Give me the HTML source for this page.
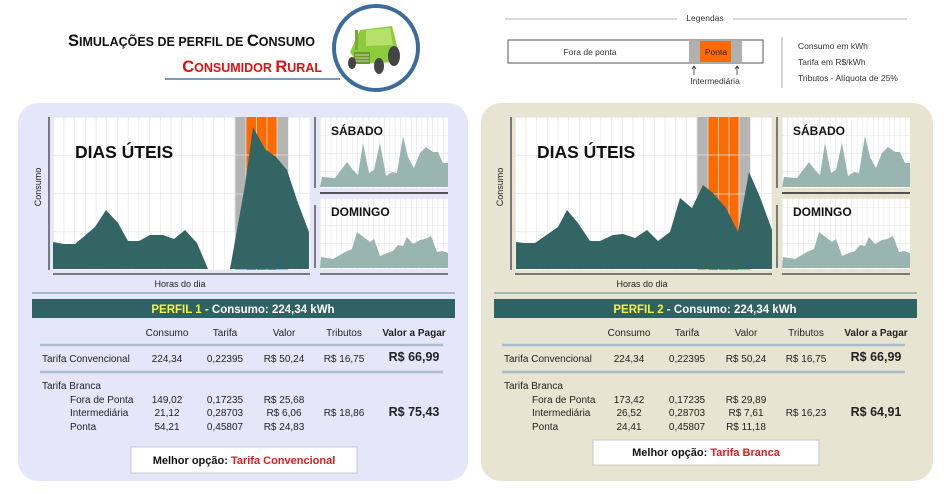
<!DOCTYPE html>
<html><head><meta charset="utf-8"><style>
html,body{margin:0;padding:0;background:#fff;}
svg{display:block;font-family:"Liberation Sans",sans-serif;}
</style></head><body>
<svg width="949" height="494" viewBox="0 0 949 494" xmlns="http://www.w3.org/2000/svg">
<defs>
<pattern id="gm" x="53" y="117" width="10.7" height="38.2" patternUnits="userSpaceOnUse">
<rect width="10.7" height="38.2" fill="#fff"/><path d="M0 0V38.2M0 0H10.7" stroke="#dcdcdc" stroke-width="1"/></pattern>
<pattern id="gs" x="320" y="117" width="5.35" height="18" patternUnits="userSpaceOnUse">
<rect width="5.35" height="18" fill="#fff"/><path d="M0 0V18M0 0H5.35" stroke="#dcdcdc" stroke-width="0.8"/></pattern>
<g id="small">
<rect x="320" y="117" width="128" height="71" fill="url(#gs)"/>
<rect x="320" y="199" width="128" height="70" fill="url(#gs)"/>
<polygon fill="#98b5b0" points="320,187 322,177 335,178 347,162 353,170 358,175 363,143 369,173 374,170 380,143 386,176 392,172 397,173 403,136 408,157 414,168 420,153 426,147 433,152 438,152 443,163 448,163 448,187"/>
<polygon fill="#98b5b0" points="320,268 321,257 333,259 345,252 352,249 357,232 370,242 374,239 380,256 387,253 393,251 398,245 403,246 407,237 413,244 420,240 425,239 431,236 437,252 442,251 448,253 448,268"/>
<line x1="315" y1="117" x2="315" y2="188" stroke="#555" stroke-width="1.5"/>
<line x1="315" y1="205" x2="315" y2="268" stroke="#555" stroke-width="1.5"/>
<line x1="320" y1="193" x2="448" y2="193" stroke="#222" stroke-width="1.5"/>
<line x1="320" y1="274" x2="448" y2="274" stroke="#555" stroke-width="1.5"/>
<text x="331" y="135" font-size="12" font-weight="bold" fill="#111">SÁBADO</text>
<text x="331" y="216" font-size="12" font-weight="bold" fill="#111">DOMINGO</text>
<line x1="49" y1="117" x2="49" y2="270" stroke="#555" stroke-width="1.5"/>
<line x1="53" y1="274" x2="310" y2="274" stroke="#555" stroke-width="1.5"/>
<text x="180" y="287" font-size="9" fill="#222" text-anchor="middle">Horas do dia</text>
<text transform="translate(41,187) rotate(-90)" font-size="9" fill="#222" text-anchor="middle">Consumo</text>
<line x1="32" y1="293" x2="455" y2="293" stroke="#5a8a9a" stroke-width="1"/>
<rect x="32" y="299" width="423" height="19" fill="#2f6262"/>
<g font-size="10" fill="#222" text-anchor="middle">
<text x="167" y="336">Consumo</text><text x="225" y="336">Tarifa</text><text x="284" y="336">Valor</text><text x="344" y="336">Tributos</text>
<text x="414" y="336" font-weight="bold">Valor a Pagar</text>
</g>
<line x1="40" y1="345" x2="443" y2="345" stroke="#a9bccb" stroke-width="2.5"/>
<line x1="40" y1="372" x2="443" y2="372" stroke="#a9bccb" stroke-width="2.5"/>
<text x="42" y="362" font-size="10" fill="#222">Tarifa Convencional</text>
<text x="42" y="389" font-size="10" fill="#222">Tarifa Branca</text>
<g font-size="10" fill="#222"><text x="70" y="403">Fora de Ponta</text><text x="70" y="416">Intermediária</text><text x="70" y="430">Ponta</text></g>
</g>
</defs>
<!-- header -->
<text x="68" y="46" font-size="16.5" font-weight="bold" fill="#111">S<tspan font-size="12.5">IMULAÇÕES DE PERFIL DE </tspan>C<tspan font-size="12.5">ONSUMO</tspan></text>
<text x="322" y="72" font-size="16.5" font-weight="bold" fill="#dd1111" text-anchor="end">C<tspan font-size="12.5">ONSUMIDOR </tspan>R<tspan font-size="12.5">URAL</tspan></text>
<line x1="165" y1="79" x2="340" y2="79" stroke="#4a7aa8" stroke-width="1.5"/>
<circle cx="376" cy="48" r="42" fill="#fff" stroke="#3c6c9c" stroke-width="4"/>
<g>
<path d="M360 30 L392 26 L398 50 L396 62 L358 64 L350 52 Z" fill="#8ccc3c"/>
<path d="M366 30 L390 28 L393 45 L366 46 Z" fill="#b5e06a"/>
<rect x="354" y="52" width="16" height="12" fill="#6a9a2a"/>
<line x1="355" y1="55" x2="369" y2="55" stroke="#ccc"/><line x1="355" y1="58" x2="369" y2="58" stroke="#ccc"/><line x1="355" y1="61" x2="369" y2="61" stroke="#ccc"/>
<ellipse cx="394" cy="56" rx="6" ry="10" fill="#444"/>
<ellipse cx="379" cy="66" rx="5" ry="8" fill="#444"/>
<ellipse cx="352" cy="63" rx="4" ry="6" fill="#444"/>
<rect x="355" y="30" width="3" height="20" fill="#7aa83a"/>
</g>
<!-- legend -->
<text x="705" y="21" font-size="8.5" fill="#333" text-anchor="middle">Legendas</text>
<line x1="505" y1="19" x2="677" y2="19" stroke="#999" stroke-width="0.8"/>
<line x1="733" y1="19" x2="907" y2="19" stroke="#999" stroke-width="0.8"/>
<rect x="508" y="40" width="255" height="23" fill="#fff" stroke="#555" stroke-width="1"/>
<rect x="689" y="41" width="53" height="21" fill="#b0b0b0"/>
<rect x="700" y="41" width="31" height="21" fill="#ff6a00"/>
<text x="590" y="55" font-size="8.5" fill="#333" text-anchor="middle">Fora de ponta</text>
<text x="716" y="55" font-size="8.5" fill="#222" text-anchor="middle">Ponta</text>
<path d="M694 75V67M692 69L694 66L696 69M737 75V67M735 69L737 66L739 69" stroke="#333" fill="none" stroke-width="0.8"/>
<text x="715" y="84" font-size="8.5" fill="#333" text-anchor="middle">Intermediária</text>
<line x1="782" y1="37" x2="782" y2="88" stroke="#aaa" stroke-width="1"/>
<g font-size="8.5" fill="#333"><text x="798" y="49">Consumo em kWh</text><text x="798" y="65">Tarifa  em R$/kWh</text><text x="798" y="81">Tributos - Alíquota de 25%</text></g>
<!-- panels -->
<rect x="18" y="103" width="450" height="378" rx="20" fill="#e6e6fb"/>
<rect x="481" y="103" width="452" height="378" rx="20" fill="#e7e5d1"/>
<!-- panel 1 charts -->
<rect x="53" y="117" width="257" height="153" fill="url(#gm)"/>
<rect x="235" y="117" width="53" height="153" fill="#b4b4b4"/>
<rect x="246" y="117" width="31" height="153" fill="#ff6a00"/>
<path d="M235 117V270M246 117V270M256.5 117V270M267 117V270M277 117V270M235 155H288M235 194H288M235 232H288" stroke="#e0e0e0" stroke-width="0.8"/>
<polygon fill="#326563" points="53,269 53,242 64,244 75,244 95,227 106,210 118,223 128,241 139,241 150,235 163,235 174,239 185,230 197,243 208,269 230,269 245,185 253,127 265,149 276,157 287,170 298,203 309,232 309,269"/>
<text x="75" y="158" font-size="17.5" font-weight="bold" fill="#111">DIAS ÚTEIS</text>
<use href="#small"/>
<text x="243" y="313" font-size="11.5" font-weight="bold" fill="#fff" text-anchor="middle"><tspan fill="#f5f533">PERFIL 1</tspan> - Consumo: 224,34 kWh</text>
<g font-size="10" fill="#222" text-anchor="middle">
<text x="167" y="362">224,34</text><text x="225" y="362">0,22395</text><text x="284" y="362">R$ 50,24</text><text x="344" y="362">R$ 16,75</text>
<text x="167" y="403">149,02</text><text x="225" y="403">0,17235</text><text x="284" y="403">R$ 25,68</text>
<text x="167" y="416">21,12</text><text x="225" y="416">0,28703</text><text x="284" y="416">R$ 6,06</text><text x="344" y="416">R$ 18,86</text>
<text x="167" y="430">54,21</text><text x="225" y="430">0,45807</text><text x="284" y="430">R$ 24,83</text>
<text x="414" y="361" font-size="12.5" font-weight="bold">R$ 66,99</text>
<text x="414" y="416" font-size="12.5" font-weight="bold">R$ 75,43</text>
</g>
<rect x="131" y="447" width="226" height="26" fill="#fff" stroke="#c8c8c8"/>
<text x="244" y="464" font-size="11" font-weight="bold" fill="#111" text-anchor="middle">Melhor opção: <tspan fill="#e21b1b">Tarifa Convencional</tspan></text>
<!-- panel 2 charts -->
<g transform="translate(462,0)">
<rect x="53" y="117" width="257" height="153" fill="url(#gm)"/>
<rect x="235" y="117" width="53" height="153" fill="#b4b4b4"/>
<rect x="246" y="117" width="31" height="153" fill="#ff6a00"/>
<path d="M235 117V270M246 117V270M256.5 117V270M267 117V270M277 117V270M235 155H288M235 194H288M235 232H288" stroke="#e0e0e0" stroke-width="0.8"/>
<polygon fill="#326563" points="54,269 54,242 62,243 73,243 96,227 105,210 116,223 128,241 138,241 151,235 161,234 173,238 185,230 196,241 208,232 218,198 230,208 241,185 251,193 264,208 276,232 287,172 298,197 310,230 310,269"/>
<text x="75" y="158" font-size="17.5" font-weight="bold" fill="#111">DIAS ÚTEIS</text>
<use href="#small"/>
<text x="243" y="313" font-size="11.5" font-weight="bold" fill="#fff" text-anchor="middle"><tspan fill="#f5f533">PERFIL 2</tspan> - Consumo: 224,34 kWh</text>
<g font-size="10" fill="#222" text-anchor="middle">
<text x="167" y="362">224,34</text><text x="225" y="362">0,22395</text><text x="284" y="362">R$ 50,24</text><text x="344" y="362">R$ 16,75</text>
<text x="167" y="403">173,42</text><text x="225" y="403">0,17235</text><text x="284" y="403">R$ 29,89</text>
<text x="167" y="416">26,52</text><text x="225" y="416">0,28703</text><text x="284" y="416">R$ 7,61</text><text x="344" y="416">R$ 16,23</text>
<text x="167" y="430">24,41</text><text x="225" y="430">0,45807</text><text x="284" y="430">R$ 11,18</text>
<text x="414" y="361" font-size="12.5" font-weight="bold">R$ 66,99</text>
<text x="414" y="416" font-size="12.5" font-weight="bold">R$ 64,91</text>
</g>
<rect x="131" y="440" width="226" height="25" fill="#fff" stroke="#c8c8c8"/>
<text x="244" y="456" font-size="11" font-weight="bold" fill="#111" text-anchor="middle">Melhor opção: <tspan fill="#e21b1b">Tarifa Branca</tspan></text>
</g>
</svg>
</body></html>
